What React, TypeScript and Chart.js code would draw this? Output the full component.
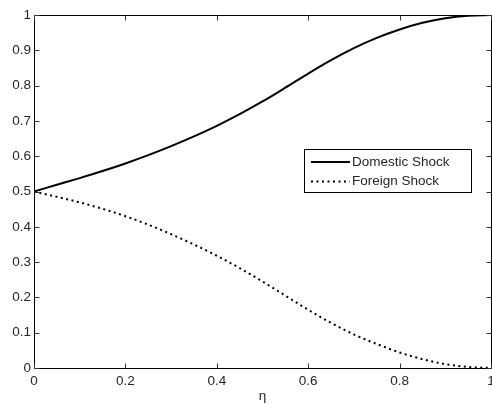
import React, { useEffect, useRef } from "react";
import { Chart, registerables } from "chart.js";

Chart.register(...registerables);

const ETA = [0, 0.05, 0.1, 0.15, 0.2, 0.25, 0.3, 0.35, 0.4, 0.45, 0.5, 0.55, 0.6, 0.65, 0.7, 0.75, 0.8, 0.85, 0.9, 0.95, 1];
const DOMESTIC = [0.5, 0.519, 0.538, 0.558, 0.5795, 0.603, 0.6285, 0.656, 0.686, 0.719, 0.755, 0.794, 0.834, 0.872, 0.906, 0.935, 0.959, 0.978, 0.991, 0.998, 1.0];
const FOREIGN = [0.5, 0.485, 0.469, 0.451, 0.43, 0.406, 0.379, 0.35, 0.318, 0.283, 0.245, 0.205, 0.165, 0.128, 0.095, 0.068, 0.044, 0.025, 0.011, 0.003, 0.0];
const SERIES_LABELS = ["Domestic Shock", "Foreign Shock"];
const X_TICKS = [0, 0.2, 0.4, 0.6, 0.8, 1];
const Y_TICKS = [0, 0.1, 0.2, 0.3, 0.4, 0.5, 0.6, 0.7, 0.8, 0.9, 1];
const X_TITLE = "η";

const FONT = '"Liberation Sans", Arial, Helvetica, sans-serif';
const FONT_SIZE = 13.5;
const TEXT_COLOR = "#262626";

const fmt = (v: number) => String(Number(v.toFixed(2)));

const framePlugin = {
  id: "matlabFrame",
  afterDatasetsDraw(chart: any) {
    const { ctx, chartArea, scales } = chart;
    const L = Math.floor(chartArea.left) + 0.5;
    const R = Math.floor(chartArea.right) + 0.5;
    const T = Math.floor(chartArea.top) + 0.5;
    const B = Math.floor(chartArea.bottom) + 0.5;
    const tl = 5;
    ctx.save();
    ctx.strokeStyle = "#000";
    ctx.lineWidth = 1;
    ctx.beginPath();
    ctx.rect(L, T, R - L, B - T);
    ctx.stroke();
    ctx.strokeStyle = "#333";
    ctx.beginPath();
    X_TICKS.forEach((v) => {
      const px = Math.round(scales.x.getPixelForValue(v)) + 0.5;
      ctx.moveTo(px, B);
      ctx.lineTo(px, B - tl);
      ctx.moveTo(px, T);
      ctx.lineTo(px, T + tl);
    });
    Y_TICKS.forEach((v) => {
      const py = Math.round(scales.y.getPixelForValue(v)) + 0.5;
      ctx.moveTo(L, py);
      ctx.lineTo(L + tl, py);
      ctx.moveTo(R, py);
      ctx.lineTo(R - tl, py);
    });
    ctx.stroke();
    ctx.restore();
  },
  afterDraw(chart: any) {
    const { ctx } = chart;
    const bx = 304.5, by = 149.5, bw = 167, bh = 43;
    ctx.save();
    ctx.fillStyle = "#fff";
    ctx.fillRect(bx, by, bw, bh);
    ctx.strokeStyle = "#000";
    ctx.lineWidth = 1;
    ctx.strokeRect(bx, by, bw, bh);
    const rows = [162, 181.5];
    chart.data.datasets.forEach((ds: any, i: number) => {
      const y = rows[i];
      ctx.save();
      ctx.strokeStyle = ds.borderColor;
      ctx.lineWidth = ds.borderWidth;
      ctx.setLineDash(ds.borderDash || []);
      ctx.beginPath();
      ctx.moveTo(311, y);
      ctx.lineTo(350, y);
      ctx.stroke();
      ctx.restore();
      ctx.fillStyle = TEXT_COLOR;
      ctx.font = `${FONT_SIZE}px ${FONT}`;
      ctx.textBaseline = "middle";
      ctx.textAlign = "left";
      ctx.fillText(ds.label, 352, y);
    });
    ctx.restore();
  },
};

export default function App() {
  const ref = useRef<HTMLCanvasElement | null>(null);
  useEffect(() => {
    document.body.style.margin = "0";
    const canvas = ref.current!;
    const chart = new Chart(canvas, {
      type: "line",
      data: {
        datasets: [
          {
            label: SERIES_LABELS[0],
            data: ETA.map((x, i) => ({ x, y: DOMESTIC[i] })),
            borderColor: "#000",
            borderWidth: 2,
            pointRadius: 0,
            cubicInterpolationMode: "monotone",
            fill: false,
          },
          {
            label: SERIES_LABELS[1],
            data: ETA.map((x, i) => ({ x, y: FOREIGN[i] })),
            borderColor: "#000",
            borderWidth: 2,
            borderDash: [2, 3.5],
            borderCapStyle: "butt",
            pointRadius: 0,
            cubicInterpolationMode: "monotone",
            fill: false,
          },
        ],
      },
      options: {
        animation: false,
        responsive: false,
        devicePixelRatio: 1,
        layout: { padding: { top: 15, right: 1, left: 0, bottom: 0 } },
        plugins: { legend: { display: false }, tooltip: { enabled: false } },
        scales: {
          x: {
            type: "linear",
            min: 0,
            max: 1,
            grid: { display: false, drawTicks: false },
            border: { display: false },
            afterBuildTicks: (s: any) => {
              s.ticks = X_TICKS.map((value) => ({ value }));
            },
            afterFit: (s: any) => {
              s.height = 36;
              s.paddingLeft = 0;
              s.paddingRight = 0;
            },
            ticks: {
              padding: 5,
              maxRotation: 0,
              autoSkip: false,
              color: TEXT_COLOR,
              font: { family: FONT, size: FONT_SIZE },
              callback: (v: any) => fmt(Number(v)),
            },
            title: {
              display: true,
              text: X_TITLE,
              color: TEXT_COLOR,
              font: { family: FONT, size: FONT_SIZE },
              padding: { top: 0, bottom: 0 },
            },
          },
          y: {
            type: "linear",
            min: 0,
            max: 1,
            grid: { display: false, drawTicks: false },
            border: { display: false },
            afterBuildTicks: (s: any) => {
              s.ticks = Y_TICKS.map((value) => ({ value }));
            },
            afterFit: (s: any) => {
              s.width = 34;
              s.paddingTop = 0;
              s.paddingBottom = 0;
            },
            ticks: {
              padding: 3,
              autoSkip: false,
              color: TEXT_COLOR,
              font: { family: FONT, size: FONT_SIZE },
              callback: (v: any) => fmt(Number(v)),
            },
          },
        },
      },
      plugins: [framePlugin],
    } as any);
    return () => chart.destroy();
  }, []);
  return (
    <div style={{ position: "absolute", left: 0, top: 0, width: 492, height: 404 }}>
      <canvas ref={ref} width={492} height={404} style={{ width: 492, height: 404, display: "block" }} />
    </div>
  );
}
